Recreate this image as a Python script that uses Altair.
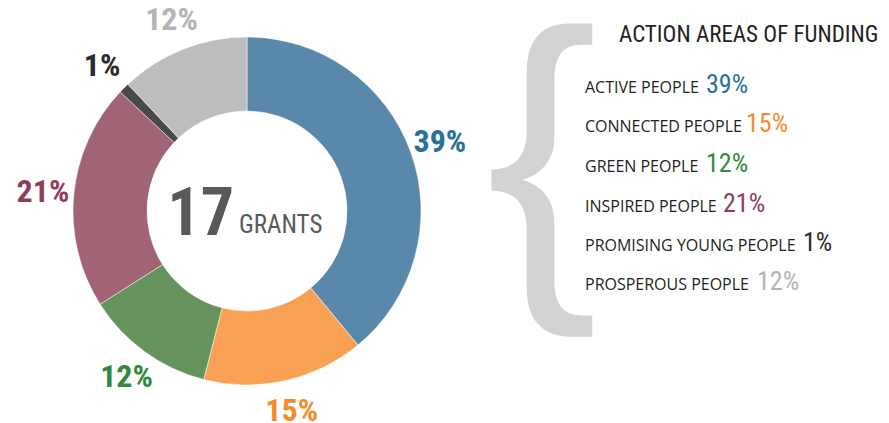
import altair as alt
import pandas as pd

# ---- data ----
categories = ["ACTIVE PEOPLE", "CONNECTED PEOPLE", "GREEN PEOPLE",
              "INSPIRED PEOPLE", "PROMISING YOUNG PEOPLE", "PROSPEROUS PEOPLE"]
values = [39, 15, 12, 21, 1, 12]
pct_labels = ["39%", "15%", "12%", "21%", "1%", "12%"]
slice_colors = ["#5a88ab", "#f8a154", "#66935b", "#a06474", "#4a4a4a", "#bcbdbf"]
label_colors = ["#2a7099", "#f68b2c", "#2f8a3e", "#8e3d5c", "#2a2a2a", "#b3b4b6"]
grant_count = "17"
title_text = "ACTION AREAS OF FUNDING"

# ---- layout (pixels within the view; page adds 8px margin) ----
CX, CY = 239, 203
legend_x = 577
legend_baselines = [85, 124, 164, 204, 243, 282]
legend_num_x = [698, 738, 698, 715, 795, 749]

COND = "Roboto Condensed, Liberation Sans, sans-serif"

df = pd.DataFrame({
    "cat": categories,
    "value": values,
    "pct": pct_labels,
    "scol": slice_colors,
    "lcol": label_colors,
    "idx": list(range(len(categories))),
    "ly": legend_baselines,
    "nx": legend_num_x,
})

base = alt.Chart(df)

arcs = base.mark_arc(innerRadius=100, outerRadius=174, stroke="#ffffff", strokeWidth=0.5).encode(
    theta=alt.Theta("value:Q", stack=True),
    order=alt.Order("idx:Q"),
    color=alt.Color("scol:N", scale=None),
    x=alt.value(CX), y=alt.value(CY),
)

labels = base.mark_text(radius=205, font=COND, fontSize=32, fontWeight="bold",
                        align="center", baseline="middle").encode(
    theta=alt.Theta("value:Q", stack=True),
    order=alt.Order("idx:Q"),
    text="pct:N",
    color=alt.Color("lcol:N", scale=None),
    x=alt.value(CX), y=alt.value(CY),
)

big = alt.Chart(pd.DataFrame({"t": [grant_count]})).mark_text(
    font=COND, fontSize=66, fontWeight="bold", color="#58595b",
    align="right", baseline="alphabetic").encode(
    text="t:N", x=alt.value(226), y=alt.value(227))
grants = alt.Chart(pd.DataFrame({"t": ["GRANTS"]})).mark_text(
    font=COND, fontSize=25, color="#58595b", align="left", baseline="alphabetic").encode(
    text="t:N", x=alt.value(231), y=alt.value(225))

brace = alt.Chart(pd.DataFrame({"t": ["{"]})).mark_text(
    font="Liberation Sans", fontSize=336, color="#d1d2d3", align="center",
    baseline="alphabetic").encode(
    text="t:N", x=alt.value(534), y=alt.value(259))

title = alt.Chart(pd.DataFrame({"t": [title_text]})).mark_text(
    font=COND, fontSize=23, color="#231f20", align="left", baseline="alphabetic").encode(
    text="t:N", x=alt.value(611), y=alt.value(34))

leg_labels = base.mark_text(font="Open Sans", fontSize=16, color="#231f20",
                            align="left", baseline="alphabetic").encode(
    text="cat:N", x=alt.value(legend_x), y=alt.Y("ly:Q", scale=None))

leg_nums = base.mark_text(font=COND, fontSize=26, align="left", baseline="alphabetic").encode(
    text="pct:N", x=alt.X("nx:Q", scale=None), y=alt.Y("ly:Q", scale=None),
    color=alt.Color("lcol:N", scale=None))

chart = alt.layer(arcs, labels, big, grants, brace, title, leg_labels, leg_nums).properties(
    width=873, height=415, autosize="none", padding=0, background="#ffffff"
).configure_view(stroke=None)

chart.save("out.html", embed_options={"renderer": "svg", "actions": False})
